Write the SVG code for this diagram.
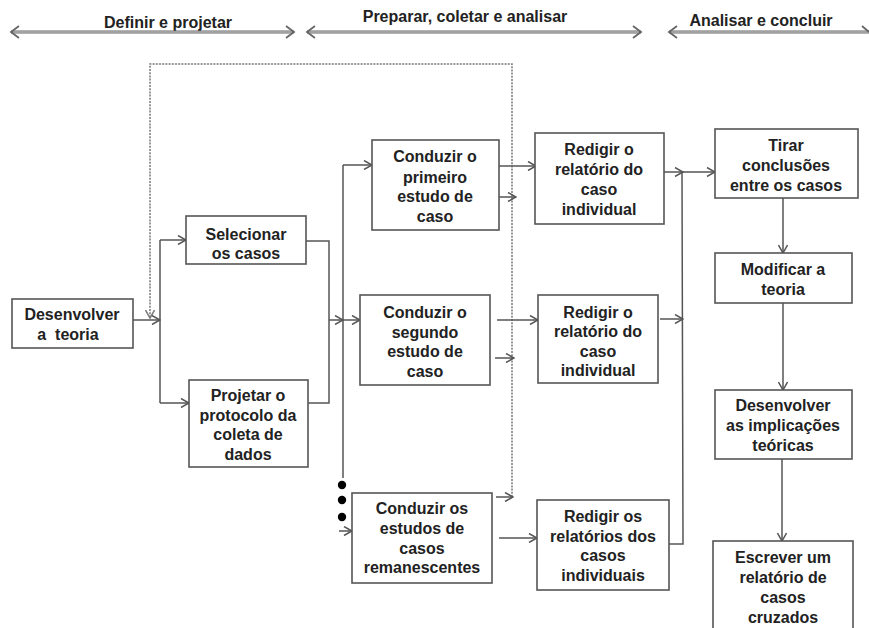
<svg xmlns="http://www.w3.org/2000/svg" width="869" height="628" viewBox="0 0 869 628">
  <style>
    .box { fill: #fff; stroke: #555; stroke-width: 1.6; }
    .lbl { font-family: "Liberation Sans", Arial, sans-serif; font-weight: bold; font-size: 16px; fill: #222; text-anchor: middle; }
    .hdr { font-family: "Liberation Sans", Arial, sans-serif; font-weight: bold; font-size: 16px; fill: #222; text-anchor: middle; }
    .wire { fill: none; stroke: #555; stroke-width: 1.5; }
    .arr { fill: none; stroke: #555; stroke-width: 1.5; marker-end: url(#head); }
    .dot { fill: none; stroke: #777; stroke-width: 1.5; stroke-dasharray: 2 1.2; }
    .phase { fill: none; stroke: #666; stroke-width: 3; }
    .phaseIn { fill: none; stroke: #ddd; stroke-width: 1; }
    .chev { fill: none; stroke: #666; stroke-width: 1.8; }
  </style>
  <defs>
    <marker id="head" markerWidth="10" markerHeight="10" refX="9" refY="5" orient="auto" markerUnits="userSpaceOnUse">
      <path d="M1,0.5 L9,5 L1,9.5" fill="none" stroke="#555" stroke-width="1.5"/>
    </marker>
    <marker id="headDot" markerWidth="10" markerHeight="10" refX="9" refY="5" orient="auto" markerUnits="userSpaceOnUse">
      <path d="M1,0.5 L9,5 L1,9.5" fill="none" stroke="#777" stroke-width="1.5"/>
    </marker>
  </defs>

  <!-- phase headers -->
  <g id="phases">
    <text class="hdr" x="168" y="28">Definir e projetar</text>
    <line class="phase" x1="11" y1="32" x2="294" y2="32"/>
    <line class="phaseIn" x1="13" y1="32" x2="292" y2="32"/>
    <path class="chev" d="M19,26 L11,32 L19,38 M286,26 L294,32 L286,38"/>

    <text class="hdr" x="465" y="22">Preparar, coletar e analisar</text>
    <line class="phase" x1="307" y1="32" x2="641" y2="32"/>
    <line class="phaseIn" x1="309" y1="32" x2="639" y2="32"/>
    <path class="chev" d="M315,26 L307,32 L315,38 M633,26 L641,32 L633,38"/>

    <text class="hdr" x="761" y="26">Analisar e concluir</text>
    <line class="phase" x1="669" y1="32" x2="869" y2="32"/>
    <line class="phaseIn" x1="671" y1="32" x2="869" y2="32"/>
    <path class="chev" d="M677,26 L669,32 L677,38 M862,26 L869,32"/>
  </g>

  <!-- connectors -->
  <g id="connectors">
    <!-- feedback loop (dotted) -->
    <path class="dot" d="M512,497 L512,64 L150,64 L150,318" marker-end="url(#headDot)"/>

    <line class="arr" x1="133" y1="320" x2="160" y2="320"/>
    <line class="wire" x1="160" y1="240" x2="160" y2="403"/>
    <line class="arr" x1="160" y1="240" x2="186" y2="240"/>
    <line class="arr" x1="160" y1="403" x2="189" y2="403"/>

    <path class="wire" d="M306,241 L329,241 L329,403 L308,403"/>
    <line class="arr" x1="329" y1="320" x2="343" y2="320"/>
    <line class="wire" x1="343" y1="165" x2="343" y2="478"/>
    <line class="arr" x1="343" y1="165" x2="372" y2="165"/>
    <line class="arr" x1="343" y1="320" x2="360" y2="320"/>
    <circle cx="342" cy="485" r="4.2" fill="#000"/>
    <circle cx="342" cy="500" r="4.2" fill="#000"/>
    <circle cx="342" cy="517" r="4.2" fill="#000"/>
    <line class="arr" x1="339" y1="531" x2="352" y2="531"/>

    <line class="arr" x1="499" y1="166" x2="536" y2="166"/>
    <line class="arr" x1="499" y1="197" x2="516" y2="197"/>
    <line class="arr" x1="497" y1="320" x2="538" y2="320"/>
    <line class="arr" x1="495" y1="358" x2="514" y2="358"/>
    <line class="arr" x1="499" y1="538" x2="537" y2="538"/>
    <line class="arr" x1="496" y1="497" x2="513" y2="497"/>

    <line class="arr" x1="663" y1="172" x2="683" y2="172"/>
    <line class="arr" x1="682" y1="172" x2="715" y2="172"/>
    <line class="arr" x1="660" y1="319" x2="683" y2="319"/>
    <path class="wire" d="M669,544 L683,544 L682,172"/>

    <line class="arr" x1="783" y1="198" x2="783" y2="253"/>
    <line class="arr" x1="783" y1="303" x2="783" y2="390"/>
    <line class="arr" x1="782" y1="459" x2="782" y2="541"/>
  </g>

  <!-- nodes -->
  <g id="desenvolver-teoria">
    <rect class="box" x="12" y="299" width="121" height="49"/>
    <text class="lbl" x="72" y="320">Desenvolver</text>
    <text class="lbl" x="68" y="340" xml:space="preserve">a  teoria</text>
  </g>

  <g id="selecionar-casos">
    <rect class="box" x="186" y="216" width="120" height="48"/>
    <text class="lbl" x="246" y="240">Selecionar</text>
    <text class="lbl" x="246" y="259">os casos</text>
  </g>

  <g id="projetar-protocolo">
    <rect class="box" x="189" y="380" width="119" height="87"/>
    <text class="lbl" x="248" y="401">Projetar o</text>
    <text class="lbl" x="248" y="421">protocolo da</text>
    <text class="lbl" x="248" y="440">coleta de</text>
    <text class="lbl" x="248" y="460">dados</text>
  </g>

  <g id="conduzir-primeiro">
    <rect class="box" x="372" y="140" width="127" height="90"/>
    <text class="lbl" x="435" y="162">Conduzir o</text>
    <text class="lbl" x="435" y="183">primeiro</text>
    <text class="lbl" x="435" y="202">estudo de</text>
    <text class="lbl" x="435" y="222">caso</text>
  </g>

  <g id="conduzir-segundo">
    <rect class="box" x="360" y="295" width="130" height="90"/>
    <text class="lbl" x="425" y="318">Conduzir o</text>
    <text class="lbl" x="425" y="338">segundo</text>
    <text class="lbl" x="425" y="357">estudo de</text>
    <text class="lbl" x="425" y="377">caso</text>
  </g>

  <g id="conduzir-remanescentes">
    <rect class="box" x="352" y="493" width="140" height="90"/>
    <text class="lbl" x="422" y="514">Conduzir os</text>
    <text class="lbl" x="422" y="534">estudos de</text>
    <text class="lbl" x="422" y="554">casos</text>
    <text class="lbl" x="422" y="573">remanescentes</text>
  </g>

  <g id="redigir-primeiro">
    <rect class="box" x="535" y="133" width="129" height="91"/>
    <text class="lbl" x="599" y="155">Redigir o</text>
    <text class="lbl" x="599" y="175">relatório do</text>
    <text class="lbl" x="599" y="195">caso</text>
    <text class="lbl" x="599" y="215">individual</text>
  </g>

  <g id="redigir-segundo">
    <rect class="box" x="538" y="295" width="120" height="88"/>
    <text class="lbl" x="598" y="318">Redigir o</text>
    <text class="lbl" x="598" y="337">relatório do</text>
    <text class="lbl" x="598" y="357">caso</text>
    <text class="lbl" x="598" y="376">individual</text>
  </g>

  <g id="redigir-remanescentes">
    <rect class="box" x="537" y="500" width="132" height="90"/>
    <text class="lbl" x="603" y="522">Redigir os</text>
    <text class="lbl" x="603" y="542">relatórios dos</text>
    <text class="lbl" x="603" y="561">casos</text>
    <text class="lbl" x="603" y="581">individuais</text>
  </g>

  <g id="tirar-conclusoes">
    <rect class="box" x="715" y="129" width="143" height="69"/>
    <text class="lbl" x="786" y="151">Tirar</text>
    <text class="lbl" x="786" y="171">conclusões</text>
    <text class="lbl" x="786" y="191">entre os casos</text>
  </g>

  <g id="modificar-teoria">
    <rect class="box" x="715" y="253" width="137" height="50"/>
    <text class="lbl" x="783" y="275">Modificar a</text>
    <text class="lbl" x="783" y="295">teoria</text>
  </g>

  <g id="implicacoes-teoricas">
    <rect class="box" x="715" y="390" width="137" height="69"/>
    <text class="lbl" x="783" y="411">Desenvolver</text>
    <text class="lbl" x="783" y="431">as implicações</text>
    <text class="lbl" x="783" y="451">teóricas</text>
  </g>

  <g id="relatorio-cruzado">
    <rect class="box" x="713" y="541" width="140" height="100"/>
    <text class="lbl" x="783" y="563">Escrever um</text>
    <text class="lbl" x="783" y="583">relatório de</text>
    <text class="lbl" x="783" y="603">casos</text>
    <text class="lbl" x="783" y="623">cruzados</text>
  </g>
</svg>
